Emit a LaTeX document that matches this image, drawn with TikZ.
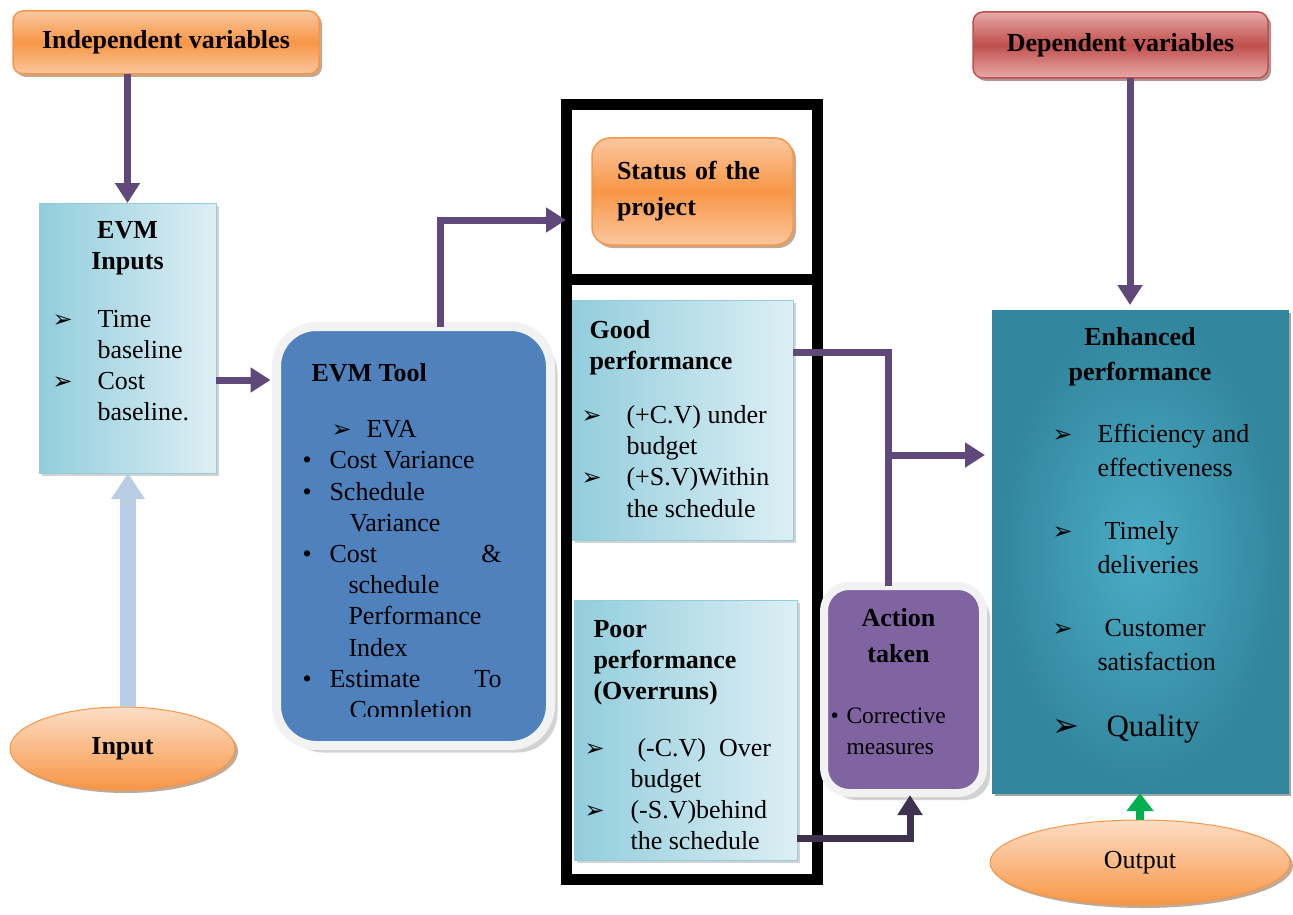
\documentclass[tikz,border=0pt]{standalone}
\usepackage{fontspec}
\setmainfont{Liberation Serif}
\newfontfamily\arrowfont{DejaVu Sans}
\usetikzlibrary{positioning,shapes.geometric,arrows.meta,shadows}

\definecolor{flowpurple}{HTML}{5F497A}
\definecolor{flowdark}{HTML}{3F3151}
\definecolor{inputblue}{HTML}{B9CDE5}
\definecolor{orangemid}{HTML}{F79646}
\definecolor{orangelight}{HTML}{FBC79F}
\definecolor{redmid}{HTML}{C0504D}
\definecolor{redlight}{HTML}{E6A9A7}
\definecolor{toolblue}{HTML}{4F81BD}
\definecolor{actionpurple}{HTML}{8064A2}
\definecolor{tealdark}{HTML}{31859C}
\definecolor{teallight}{HTML}{4BACC6}
\definecolor{paleblue}{HTML}{DDEFF5}
\definecolor{midblue}{HTML}{92CDDC}
\definecolor{outgreen}{HTML}{00B050}

\newcommand{\bodyfont}{\fontsize{26}{31.2}\selectfont}
\newcommand{\arr}[1][45pt]{\makebox[#1][l]{\arrowfont\fontsize{24}{24}\selectfont ➢}}
\newcommand{\bul}[1][27pt]{\makebox[#1][l]{\textbullet}}

\tikzset{
  box/.style={draw, rectangle, outer sep=0pt, inner sep=0pt},
  orangebox/.style={box, rounded corners=10pt, draw=orangemid, line width=1.5pt,
    top color=orangelight, bottom color=orangelight, middle color=orangemid,
    drop shadow={shadow xshift=3pt, shadow yshift=-3pt, fill=orangemid!55!black}},
  redbox/.style={box, rounded corners=10pt, draw=redmid, line width=1.5pt,
    top color=redlight, bottom color=redlight, middle color=redmid,
    drop shadow={shadow xshift=3pt, shadow yshift=-3pt, fill=redmid!50!black}},
  paper/.style={box, draw=midblue, line width=1pt, left color=midblue, right color=paleblue,
    drop shadow={shadow xshift=3pt, shadow yshift=-3pt, fill=black!35}},
  panel/.style={box, draw=black, line width=11pt, fill=white},
  softbox/.style={box, draw=black!5, line width=9pt,
    drop shadow={shadow xshift=7pt, shadow yshift=-7pt, fill=black!35}},
  oval/.style={ellipse, draw=orangemid, line width=1pt, inner sep=0pt, outer sep=0pt,
    top color=orangelight!60!white, bottom color=orangemid,
    drop shadow={shadow xshift=3pt, shadow yshift=-3pt, fill=orangemid!55!black}},
  flow/.style={draw=flowpurple, line width=7pt, -{Triangle[length=20pt,width=24pt]}},
  link/.style={draw=flowpurple, line width=7pt}
}

\begin{document}
\begin{tikzpicture}[x=1pt, y=-1pt, font=\bodyfont]
\useasboundingbox (0,0) rectangle (1293,915);
\fill[white] (0,0) rectangle (1293,915);

% Define nodes
\node[orangebox, minimum width=306pt, minimum height=63pt, font=\bfseries\bodyfont] (indep) at (166,42.5) {Independent variables};
\node[redbox, minimum width=295pt, minimum height=66pt, font=\bfseries\bodyfont] (dep) at (1120.5,45) {Dependent variables};

\node[paper, minimum width=177pt, minimum height=270pt] (inputs) at (127.5,338) {};
\node[oval, minimum width=225pt, minimum height=83pt, font=\bfseries\bodyfont] (input) at (122.5,748.5) {Input};

\node[softbox, rounded corners=40pt, fill=toolblue, minimum width=274pt, minimum height=419pt] (tool) at (413.5,536) {};

\node[panel, minimum width=251.5pt, minimum height=174.5pt] (statusPanel) at (691.75,192.25) {};
\node[panel, minimum width=251.5pt, minimum height=599.5pt] (perfPanel) at (691.75,579.25) {};
\node[orangebox, rounded corners=18pt, text width=151pt, inner xsep=25pt, align=left,
  minimum height=107pt, font=\bfseries\fontsize{26}{36}\selectfont] (status) at (692.5,191.5) {Status of the\\project};
\node[paper, minimum width=221pt, minimum height=240pt] (good) at (682.5,420) {};
\node[paper, minimum width=223pt, minimum height=260pt] (poor) at (685.5,730) {};

\node[softbox, line width=8pt, rounded corners=25pt, fill=actionpurple, minimum width=159pt, minimum height=207pt] (action) at (903.5,689.5) {};

\node[box, draw=tealdark, line width=1pt, shading=radial, inner color=teallight, outer color=tealdark,
  minimum width=296pt, minimum height=483pt,
  drop shadow={shadow xshift=3pt, shadow yshift=-3pt, fill=black!70}] (enhanced) at (1140,551.5) {};
\node[oval, minimum width=300pt, minimum height=85pt] (output) at (1140,862.5) {Output};

% Box texts
\node[font=\bfseries\bodyfont, align=center, below=15pt of inputs.north] (inputsTitle) {EVM\\Inputs};
\node[align=left, below right=103.5pt and 10pt of inputs.north west] (inputsList)
  {\arr Time\\\hspace*{45pt}baseline\\\arr Cost\\\hspace*{45pt}baseline.};

\begin{scope}
\clip (280,330) rectangle (548,716);
\node[align=left, below right=33.5pt and 22.5pt of tool.north west] (toolList) {%
  \hspace*{9pt}\textbf{EVM Tool}\\[25pt]
  \hspace*{29pt}\arr[35pt]EVA\\
  \bul Cost Variance\\
  \bul Schedule\\
  \hspace*{47pt}Variance\\
  \bul\hbox to 172pt{Cost\hfill\&}\\
  \hspace*{46pt}schedule\\
  \hspace*{46pt}Performance\\
  \hspace*{46pt}Index\\
  \bul\hbox to 172pt{Estimate\hfill To}\\
  \hspace*{47pt}Completion};
\end{scope}

\node[align=left, below right=16.5pt and 6pt of good.north west] (goodList) {%
  \hspace*{8pt}\textbf{Good}\\
  \hspace*{8pt}\textbf{performance}\\[23pt]
  \arr (+C.V) under\\
  \hspace*{45pt}budget\\
  \arr (+S.V)Within\\
  \hspace*{45pt}the schedule};

\node[align=left, below right=17pt and 7pt of poor.north west] (poorList) {%
  \hspace*{9pt}\textbf{Poor}\\
  \hspace*{9pt}\textbf{performance}\\
  \hspace*{9pt}\textbf{(Overruns)}\\[25pt]
  \arr[53pt](-C.V)\ \ Over\\
  \hspace*{46pt}budget\\
  \arr[46pt](-S.V)behind\\
  \hspace*{46pt}the schedule};

\node[font=\bfseries\fontsize{26}{36}\selectfont, align=center, below=19pt of action.north, xshift=-5pt] (actionTitle) {Action\\taken};
\node[font=\fontsize{23.5}{31}\selectfont, align=left, below right=118pt and 3pt of action.north west] (actionList)
  {\bul[16pt]Corrective\\\hspace*{16pt}measures};

\node[font=\bfseries\fontsize{26}{35}\selectfont, align=center, below=14pt of enhanced.north] (enhancedTitle) {Enhanced\\performance};
\node[font=\fontsize{26}{34}\selectfont, align=left, below right=110.5pt and 57pt of enhanced.north west] (enhancedList) {%
  \arr Efficiency and\\
  \hspace*{45pt}effectiveness\\[29pt]
  \arr\hspace*{7pt}Timely\\
  \hspace*{45pt}deliveries\\[29pt]
  \arr\hspace*{7pt}Customer\\
  \hspace*{45pt}satisfaction\\[32pt]
  \makebox[54pt][l]{\arrowfont\fontsize{32}{32}\selectfont ➢}{\fontsize{31}{34}\selectfont Quality}};

% Draw arrows
\draw[flow] (indep.south -| inputs.north) -- (inputs.north);
\draw[draw=inputblue, line width=16pt, -{Triangle[length=26pt,width=32pt]}] (input.north -| 128,0) -- (inputs.south -| 128,0);
\draw[flow, shorten >=6pt] (inputs.east |- 0,380) -- (tool.west |- 0,380);
\draw[flow] (tool.north -| 440,0) |- (statusPanel.west |- 0,220);
\draw[link] (good.east |- 0,352) -| (action.north -| 888,0);
\coordinate (merge) at (888,455);
\draw[flow, shorten >=7pt] (merge) -- (enhanced.west |- merge);
\draw[flow, draw=flowdark, shorten >=2pt] (poor.east |- 0,838) -| (action.south -| 910,0);
\draw[flow, shorten >=5pt] (dep.south -| 1130,0) -- (enhanced.north -| 1130,0);
\draw[draw=outgreen, line width=8pt, -{Triangle[length=18pt,width=26pt]}] (output.north) -- (enhanced.south);

\end{tikzpicture}
\end{document}
